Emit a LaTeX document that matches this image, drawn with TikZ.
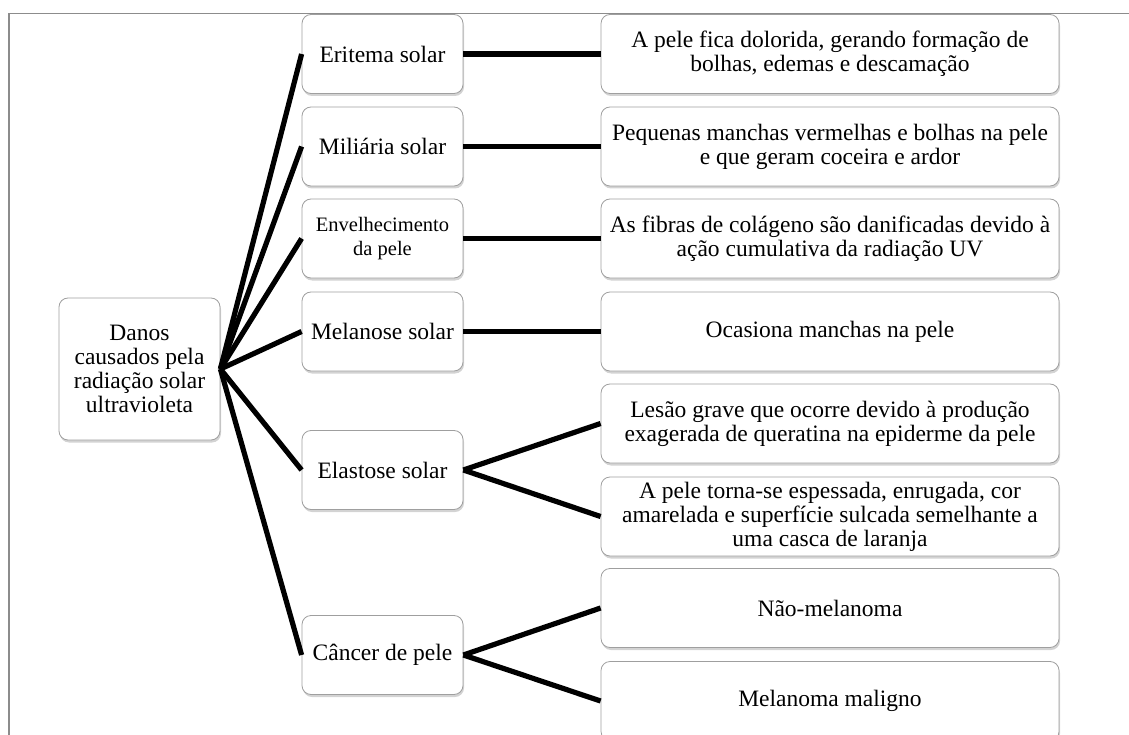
\documentclass[tikz,border=0pt]{standalone}
\usepackage{fontspec}
\setmainfont{Liberation Serif}
\usetikzlibrary{shadows}

\tikzset{
  caixa/.style={draw=gray!75, fill=white, rounded corners=9pt, line width=0.8pt,
    drop shadow={shadow xshift=1pt, shadow yshift=-2.5pt, opacity=0.35, fill=gray},
    align=center, inner sep=0pt, minimum height=79pt,
    font=\fontsize{23.5}{24}\selectfont},
  tipo/.style={minimum width=161pt},
  efeito/.style={minimum width=458pt},
  ligacao/.style={line width=5.2pt, black},
  moldura/.style={draw=gray!90, line width=1.4pt}
}

\begin{document}
\begin{tikzpicture}[x=1pt,y=-1pt]
  \clip (0,0) rectangle (1129,735);
  \draw[moldura] (1129,13.5) -- (9,13.5) -- (9,735);

  \begin{scope}[every node/.style={caixa}]
    % raiz
    \node[tipo, minimum height=142pt] (danos) at (139.5,369) {Danos\\causados pela\\radiação solar\\ultravioleta};

    % tipos de dano
    \node[tipo] (eritema) at (382.5,54) {Eritema solar};
    \node[tipo] (miliaria) at (382.5,146.5) {Miliária solar};
    \node[tipo, font=\fontsize{20.5}{24}\selectfont] (envelhecimento) at (382.5,238.5) {Envelhecimento\\da pele};
    \node[tipo] (melanose) at (382.5,331.5) {Melanose solar};
    \node[tipo] (elastose) at (382.5,470) {Elastose solar};
    \node[tipo] (cancer) at (382.5,655) {Câncer de pele};

    % efeitos
    \node[efeito] (dolorida) at (830,54) {A pele fica dolorida, gerando formação de\\bolhas, edemas e descamação};
    \node[efeito] (manchas) at (830,146.5) {Pequenas manchas vermelhas e bolhas na pele\\e que geram coceira e ardor};
    \node[efeito] (fibras) at (830,238.5) {As fibras de colágeno são danificadas devido à\\ação cumulativa da radiação UV};
    \node[efeito] (ocasiona) at (830,331.5) {Ocasiona manchas na pele};
    \node[efeito] (lesao) at (830,423.5) {Lesão grave que ocorre devido à produção\\exagerada de queratina na epiderme da pele};
    \node[efeito] (espessada) at (830,516.5) {A pele torna-se espessada, enrugada, cor\\amarelada e superfície sulcada semelhante a\\uma casca de laranja};
    \node[efeito] (naomelanoma) at (830,608) {Não-melanoma};
    \node[efeito] (melanoma) at (830,701) {Melanoma maligno};
  \end{scope}

  \path[ligacao] (danos.east) edge (eritema.west);
  \path[ligacao] (danos.east) edge (miliaria.west);
  \path[ligacao] (danos.east) edge (envelhecimento.west);
  \path[ligacao] (danos.east) edge (melanose.west);
  \path[ligacao] (danos.east) edge (elastose.west);
  \path[ligacao] (danos.east) edge (cancer.west);

  \path[ligacao] (eritema.east) edge (dolorida.west);
  \path[ligacao] (miliaria.east) edge (manchas.west);
  \path[ligacao] (envelhecimento.east) edge (fibras.west);
  \path[ligacao] (melanose.east) edge (ocasiona.west);
  \path[ligacao] (elastose.east) edge (lesao.west);
  \path[ligacao] (elastose.east) edge (espessada.west);
  \path[ligacao] (cancer.east) edge (naomelanoma.west);
  \path[ligacao] (cancer.east) edge (melanoma.west);

\end{tikzpicture}
\end{document}
